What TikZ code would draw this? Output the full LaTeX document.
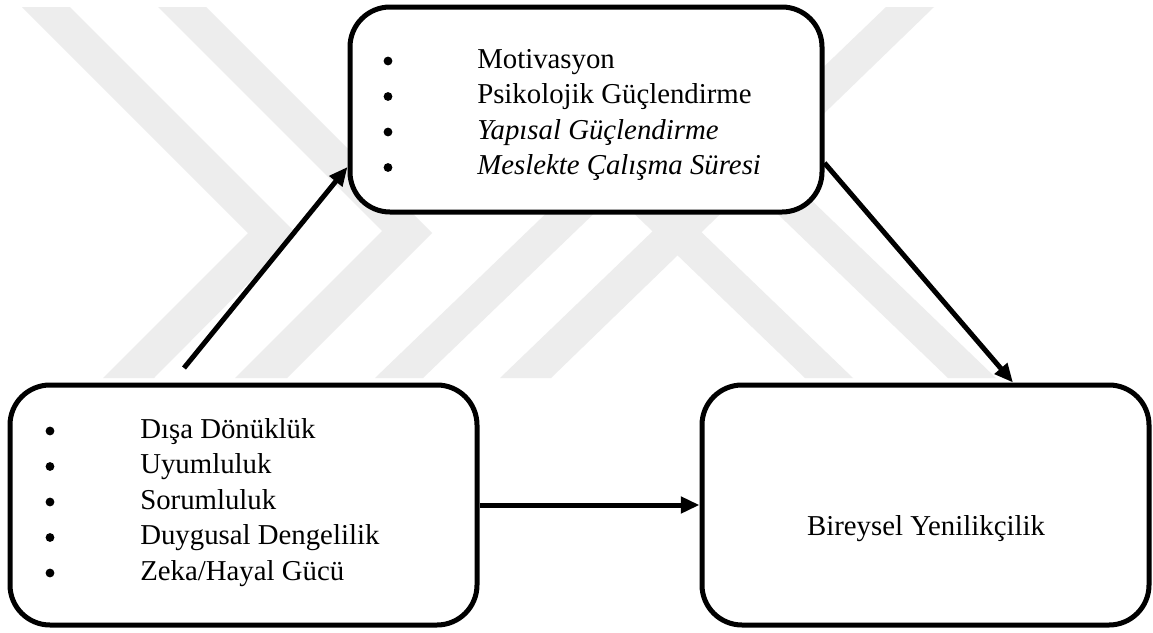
\documentclass[tikz,border=0pt]{standalone}
\usepackage{fontspec}
\setmainfont{Liberation Serif}
\usetikzlibrary{arrows.meta}
\definecolor{wm}{RGB}{237,237,237}
\begin{document}
\begin{tikzpicture}[x=0.75pt,y=-0.75pt,
  box/.style={draw=black, fill=white, line width=3.75pt, rounded corners=30pt, inner sep=0pt},
  arr/.style={line width=3.75pt, -{Triangle[length=14pt,width=12pt]}},
  txt/.style={anchor=base west, inner sep=0pt, font=\fontsize{21.6}{26}\selectfont},
  bul/.style={circle, fill=black, draw=none, inner sep=0pt, minimum size=6.6pt},
  ctxt/.style={anchor=base, inner sep=0pt, font=\fontsize{21.6}{26}\selectfont},
  wmark/.style={fill=wm, draw=none}]
\useasboundingbox (0,0) rectangle (1153,632);
\fill[white] (0,0) rectangle (1153,632);
% watermark
\fill[wmark] (22,7) -- (70,7) -- (297,234) -- (154,378) -- (103,378) -- (248,233) -- cycle;
\fill[wmark] (158,7) -- (206,7) -- (432,233) -- (287,378) -- (235,378) -- (382,231) -- cycle;
\fill[wmark] (375,378) -- (423,378) -- (660,150) -- (612,150) -- cycle;
\fill[wmark] (886,7) -- (934,7) -- (551,378) -- (500,378) -- cycle;
\fill[wmark] (620,200) -- (668,200) -- (853,378) -- (805,378) -- cycle;
\fill[wmark] (732,170) -- (780,170) -- (996,378) -- (948,378) -- cycle;
% boxes
\node[box, minimum width=354pt, minimum height=153.75pt] (top) at (586,109.5) {};
\node[box, minimum width=350.25pt, minimum height=180pt] (left) at (243.5,505) {};
\node[box, minimum width=335.25pt, minimum height=180pt] (right) at (925.5,505) {};
% connectors
\coordinate (a1s) at (184,368);
\draw[arr] (a1s) -- ([yshift=-43.1pt]top.west);
\draw[arr] ([yshift=-40.1pt]top.east) -- ([xshift=65.6pt]right.north);
\draw[arr] (left.east) -- (right.west);
% top box list
\node[bul] (tb1) at (388,61) {};
\node[bul] (tb2) at (388,96.5) {};
\node[bul] (tb3) at (388,132) {};
\node[bul] (tb4) at (388,167.5) {};
\node[txt] (tt1) at (477,68) {Motivasyon};
\node[txt] (tt2) at (477,103.5) {Psikolojik Güçlendirme};
\node[txt] (tt3) at (477,139) {\itshape Yapısal Güçlendirme};
\node[txt] (tt4) at (477,174.5) {\itshape Meslekte Çalışma Süresi};
% left box list
\node[bul] (lb1) at (50,431) {};
\node[bul] (lb2) at (50,466.5) {};
\node[bul] (lb3) at (50,502) {};
\node[bul] (lb4) at (50,537.5) {};
\node[bul] (lb5) at (50,573) {};
\node[txt] (lt1) at (140,438) {Dışa Dönüklük};
\node[txt] (lt2) at (140,473.5) {Uyumluluk};
\node[txt] (lt3) at (140,509) {Sorumluluk};
\node[txt] (lt4) at (140,544.5) {Duygusal Dengelilik};
\node[txt] (lt5) at (140,580) {Zeka/Hayal Gücü};
% right box text
\node[ctxt] (rt) at (926,535) {Bireysel Yenilikçilik};
\end{tikzpicture}
\end{document}
